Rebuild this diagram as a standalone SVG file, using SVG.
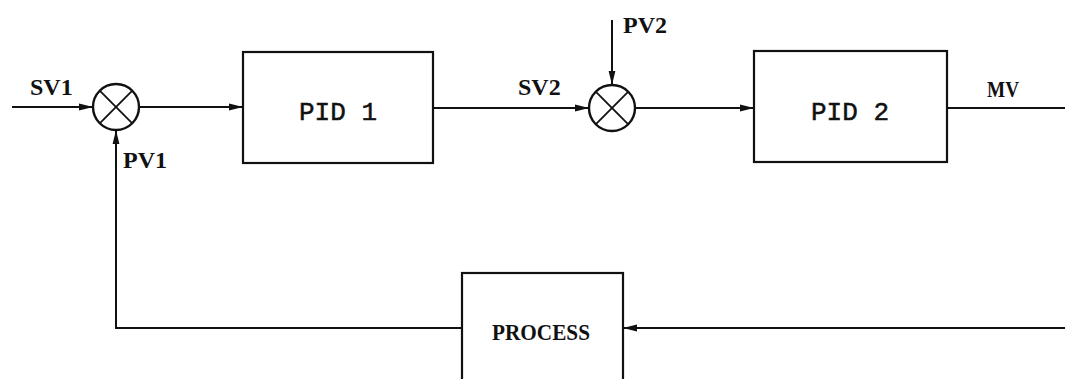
<svg xmlns="http://www.w3.org/2000/svg" width="1065" height="379" viewBox="0 0 1065 379">
  <style>
    .box { fill: #fff; stroke: #111; stroke-width: 2.2; }
    .sum { fill: #fff; stroke: #111; stroke-width: 2.4; }
    .x { stroke: #111; stroke-width: 1.8; }
    .wire { fill: none; stroke: #111; stroke-width: 2; }
    .lbl { font-family: "Liberation Serif", "Times New Roman", serif; font-weight: bold; font-size: 24px; fill: #111; }
    .blk { font-family: "Liberation Mono", "Courier New", monospace; font-size: 26px; fill: #111; stroke: #111; stroke-width: 0.5; text-anchor: middle; }
    .proc { font-family: "Liberation Serif", "Times New Roman", serif; font-weight: bold; font-size: 24px; fill: #111; text-anchor: middle; }
  </style>
  <defs>
    <marker id="arr" viewBox="0 0 14 8" refX="14" refY="4" markerWidth="14" markerHeight="8" markerUnits="userSpaceOnUse" orient="auto">
      <path d="M0,0.6 L14,4 L0,7.4 Z" fill="#111"/>
    </marker>
  </defs>
  <rect width="1065" height="379" fill="#fff"/>

  <g id="connectors">
    <line class="wire" x1="12" y1="107" x2="93" y2="107" marker-end="url(#arr)"/>
    <line class="wire" x1="139" y1="107" x2="243" y2="107" marker-end="url(#arr)"/>
    <line class="wire" x1="433" y1="108" x2="589" y2="108" marker-end="url(#arr)"/>
    <line class="wire" x1="612" y1="20" x2="612" y2="85" marker-end="url(#arr)"/>
    <line class="wire" x1="635" y1="108" x2="754" y2="108" marker-end="url(#arr)"/>
    <line class="wire" x1="947" y1="108" x2="1065" y2="108"/>
    <line class="wire" x1="1065" y1="328" x2="623" y2="328" marker-end="url(#arr)"/>
    <polyline class="wire" points="462,328 116,328 116,130" marker-end="url(#arr)"/>
  </g>

  <g id="sum1">
    <circle class="sum" cx="116" cy="107" r="23"/>
    <line class="x" x1="99.7" y1="90.7" x2="132.3" y2="123.3"/>
    <line class="x" x1="132.3" y1="90.7" x2="99.7" y2="123.3"/>
  </g>
  <g id="sum2">
    <circle class="sum" cx="612" cy="108" r="23"/>
    <line class="x" x1="595.7" y1="91.7" x2="628.3" y2="124.3"/>
    <line class="x" x1="628.3" y1="91.7" x2="595.7" y2="124.3"/>
  </g>
  <g id="pid1">
    <rect class="box" x="243" y="52" width="190" height="111"/>
    <text class="blk" x="338" y="120">PID 1</text>
  </g>
  <g id="pid2">
    <rect class="box" x="754" y="51" width="193" height="111"/>
    <text class="blk" x="850" y="120">PID 2</text>
  </g>
  <g id="process">
    <rect class="box" x="462" y="273" width="161" height="130"/>
    <text class="proc" x="541" y="340" textLength="98" lengthAdjust="spacingAndGlyphs">PROCESS</text>
  </g>

  <g id="labels">
    <text class="lbl" x="30" y="95">SV1</text>
    <text class="lbl" x="123" y="168" font-size="26">PV1</text>
    <text class="lbl" x="518" y="95">SV2</text>
    <text class="lbl" x="623" y="33">PV2</text>
    <text class="lbl" x="987" y="97" font-size="27" textLength="32" lengthAdjust="spacingAndGlyphs">MV</text>
  </g>
</svg>
